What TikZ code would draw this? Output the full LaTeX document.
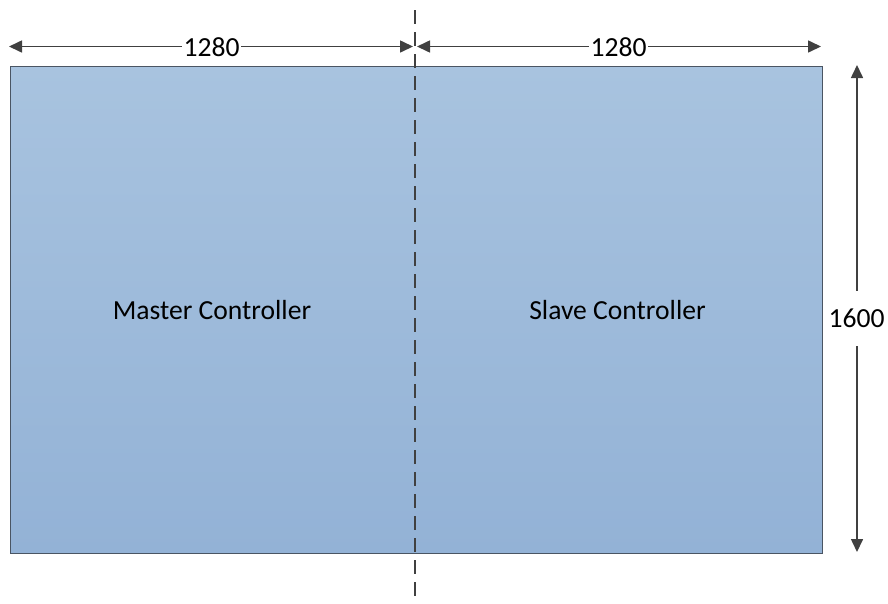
\documentclass[tikz,border=0pt]{standalone}
\usepackage{fontspec}
\setmainfont{Carlito}
\usetikzlibrary{arrows.meta}
\definecolor{linegray}{HTML}{404040}
\definecolor{boxtop}{HTML}{A8C3DF}
\definecolor{boxbot}{HTML}{93B2D6}
\definecolor{boxedge}{HTML}{4A5563}
\tikzset{
  dimline/.style={draw=linegray, line width=1.6pt, {Triangle[length=13pt,width=12pt]}-{Triangle[length=13pt,width=12pt]}},
  dimlabel/.style={fill=white, inner xsep=1.5pt, inner ysep=1pt, font=\fontsize{27.6}{32}\selectfont},
  boxlabel/.style={font=\fontsize{27.6}{32}\selectfont, inner sep=0pt},
  axisline/.style={draw=linegray, line width=2pt, dash pattern=on 14pt off 8pt}
}
\begin{document}
\begin{tikzpicture}[x=1pt,y=-1pt]
\useasboundingbox (0,0) rectangle (888,603);
% box
\node[draw=boxedge, line width=1.2pt, top color=boxtop, bottom color=boxbot,
      minimum width=812pt, minimum height=487pt, inner sep=0pt, anchor=north west] (box) at (9.5,65.5) {};
\node[boxlabel] (master) at (212,310) {Master Controller};
\node[boxlabel] (slave) at (617.5,310) {Slave Controller};
% centre axis
\coordinate (axtop) at (415,10);
\coordinate (axbot) at (415,603);
\draw[axisline] (axtop) -- (axbot);
% top dimension lines
\coordinate (l1) at (9,46.5);
\coordinate (l2) at (413,46.5);
\coordinate (r1) at (417,46.5);
\coordinate (r2) at (821,46.5);
\draw[dimline] (l1) -- (l2);
\draw[dimline] (r1) -- (r2);
\node[dimlabel] (d1) at (211.5,47) {1280};
\node[dimlabel] (d2) at (618.5,47) {1280};
% vertical dimension
\coordinate (v1) at (857,65);
\coordinate (v2) at (857,552);
\draw[dimline] (v1) -- (v2);
\node[dimlabel, minimum height=55pt] (d3) at (856.5,318) {1600};
\end{tikzpicture}
\end{document}
